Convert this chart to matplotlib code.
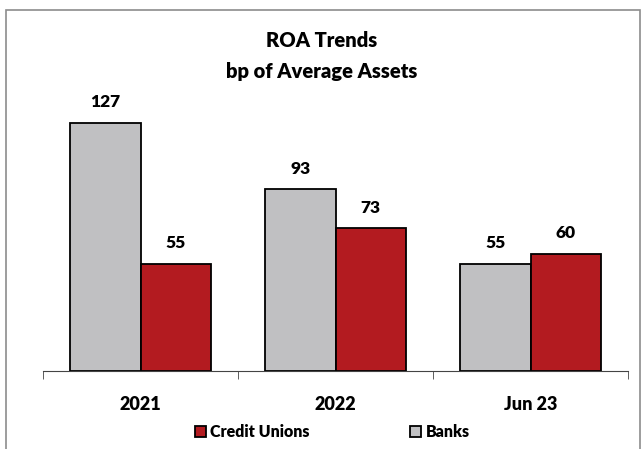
import numpy as np
import matplotlib.pyplot as plt
from matplotlib.patches import Rectangle, Patch

plt.rcParams['font.family'] = ['Lato', 'DejaVu Sans']
plt.rcParams['font.weight'] = 'heavy'

periods = ['2021', '2022', 'Jun 23']
banks = [127, 93, 55]
credit_unions = [55, 73, 60]

gray = '#C0C0C2'
red = '#B31B20'

fig = plt.figure(figsize=(6.44, 4.49), dpi=100)
# outer chart border
fig.patches.append(Rectangle((6/644, -0.05), 634/644, 1.05 - 10/449,
                             transform=fig.transFigure, fill=False,
                             edgecolor='#8c8c8c', linewidth=1.2))

ax = fig.add_axes([43/644, 78/449, 585/644, 293/449])
x = np.arange(len(periods))
w = 0.362
b1 = ax.bar(x - w/2, banks, w, color=gray, edgecolor='black', linewidth=1.3)
b2 = ax.bar(x + w/2, credit_unions, w, color=red, edgecolor='black', linewidth=1.3)

for bars, vals in ((b1, banks), (b2, credit_unions)):
    for r, v in zip(bars, vals):
        ax.annotate(str(v), (r.get_x() + r.get_width()/2, v), xytext=(0, 9),
                    textcoords='offset points', ha='center', va='bottom',
                    fontsize=12.5, fontweight='heavy')

ax.set_xlim(-0.5, len(periods) - 0.5)
ax.set_ylim(0, 150)
for s in ('top', 'right', 'left'):
    ax.spines[s].set_visible(False)
ax.spines['bottom'].set_color('#444444')
ax.set_yticks([])
ax.set_xticks(np.arange(-0.5, len(periods)), minor=True)
ax.set_xticks(x)
ax.set_xticklabels(periods, fontsize=13, fontweight='heavy')
ax.tick_params(axis='x', which='major', length=0, pad=18)
# ticks hang below the axis line
ax.tick_params(axis='x', which='minor', length=6, color='#444444', direction='out')

fig.suptitle('ROA Trends\nbp of Average Assets', y=1 - 31/449, fontsize=14.5,
             fontweight='heavy', linespacing=1.75)

handles = [Patch(facecolor=red, edgecolor='black', linewidth=1.3),
           Patch(facecolor=gray, edgecolor='black', linewidth=1.3)]
fig.legend(handles, ['Credit Unions', 'Banks'], loc='center',
           bbox_to_anchor=(0.516, 1 - 432/449), ncol=2, frameon=False,
           handlelength=0.7, handleheight=0.7, handletextpad=0.25,
           columnspacing=6.3, prop={'weight': 'heavy', 'size': 11.5})

fig.savefig('out.png', dpi=100)
